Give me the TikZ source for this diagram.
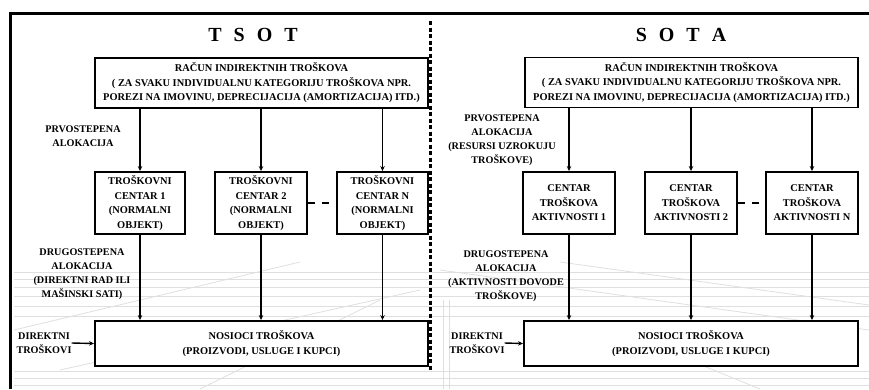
\documentclass[tikz,border=0pt]{standalone}
\usepackage{fontspec}
\setmainfont{Liberation Serif}
\usetikzlibrary{arrows.meta}
\begin{document}
\begin{tikzpicture}[x=1pt,y=-1pt,
  box/.style={draw, line width=1.9pt, fill=white, inner sep=0pt, align=center,
    font=\bfseries\fontsize{10.4}{14.5}\selectfont},
  lbl/.style={inner sep=0pt, align=center, font=\bfseries\fontsize{10.2}{14}\selectfont},
  ttl/.style={inner sep=0pt, font=\bfseries\fontsize{20}{22}\selectfont},
  arr/.style={line width=1.4pt, -{Stealth[length=5pt,width=4.5pt]}},
  gap/.style={line width=1.8pt, dash pattern=on 7pt off 7pt},
  bg/.style={gray!25, line width=0.8pt}]
\useasboundingbox (0,0) rectangle (869,389);
% faint background grid
\foreach \yy in {272,279,287,296,306,316,371,378,385}
  \draw[bg] (14,\yy) -- (869,\yy);
\draw[bg] (14,330) -- (300,262);
\draw[bg] (60,370) -- (420,290);
\draw[bg] (200,389) -- (380,300);
\draw[bg] (440,270) -- (869,330);
\draw[bg] (560,262) -- (869,305);
\draw[bg] (640,340) -- (760,389);
\draw[bg] (443,300) -- (443,389);
\draw[bg] (449,300) -- (449,389);
% frame
\draw[line width=3pt] (10,389) -- (10,13) -- (869,13);
\coordinate (sepA) at (430,21);
\coordinate (sepB) at (430,371);
\draw[line width=3pt, dash pattern=on 4pt off 2.5pt] (sepA) -- (sepB);
% titles
\node[ttl] (tl) at (253,35) {T\hspace{12pt}S\hspace{12pt}O\hspace{12pt}T};
\node[ttl] (tr) at (681,35) {S\hspace{12pt}O\hspace{12pt}T\hspace{12pt}A};
% ---------- left (TSOT) ----------
\node[box, minimum width=333pt, minimum height=50pt] (t1) at (261.5,83)
  {RAČUN INDIREKTNIH TROŠKOVA\\( ZA SVAKU INDIVIDUALNU KATEGORIJU TROŠKOVA NPR.\\POREZI NA IMOVINU, DEPRECIJACIJA (AMORTIZACIJA) ITD.)};
\node[box, minimum width=90pt, minimum height=62pt] (m1) at (140,203)
  {TROŠKOVNI\\CENTAR 1\\(NORMALNI\\OBJEKT)};
\node[box, minimum width=92pt, minimum height=62pt] (m2) at (261,203)
  {TROŠKOVNI\\CENTAR 2\\(NORMALNI\\OBJEKT)};
\node[box, minimum width=91pt, minimum height=62pt] (m3) at (382.5,203)
  {TROŠKOVNI\\CENTAR N\\(NORMALNI\\OBJEKT)};
\node[box, minimum width=333pt, minimum height=45pt] (b1) at (261.5,343.5)
  {NOSIOCI TROŠKOVA\\(PROIZVODI, USLUGE I KUPCI)};
\foreach \m in {m1,m2,m3}{
  \draw[arr] (\m |- t1.south) -- (\m.north);
  \draw[arr] (\m.south) -- (\m |- b1.north);
}
\draw[gap] (m2.east) -- (m3.west);
\node[lbl] (p1) at (83,136.5) {PRVOSTEPENA\\ALOKACIJA};
\node[lbl] (d1) at (82,274.5) {DRUGOSTEPENA\\ALOKACIJA\\(DIREKTNI RAD ILI\\MAŠINSKI SATI)};
\node[lbl] (k1) at (44,343) {DIREKTNI\\TROŠKOVI};
\draw[arr] (k1.east) -- (b1.west);
% ---------- right (SOTA) ----------
\node[box, minimum width=333pt, minimum height=50pt] (t2) at (691.5,82.5)
  {RAČUN INDIREKTNIH TROŠKOVA\\( ZA SVAKU INDIVIDUALNU KATEGORIJU TROŠKOVA NPR.\\POREZI NA IMOVINU, DEPRECIJACIJA (AMORTIZACIJA) ITD.)};
\node[box, minimum width=92pt, minimum height=62pt] (n1) at (569,203)
  {CENTAR\\TROŠKOVA\\AKTIVNOSTI 1};
\node[box, minimum width=92pt, minimum height=62pt] (n2) at (691,203)
  {CENTAR\\TROŠKOVA\\AKTIVNOSTI 2};
\node[box, minimum width=92pt, minimum height=62pt] (n3) at (812,203)
  {CENTAR\\TROŠKOVA\\AKTIVNOSTI N};
\node[box, minimum width=334pt, minimum height=45pt] (b2) at (691,343.5)
  {NOSIOCI TROŠKOVA\\(PROIZVODI, USLUGE I KUPCI)};
\foreach \m in {n1,n2,n3}{
  \draw[arr] (\m |- t2.south) -- (\m.north);
  \draw[arr] (\m.south) -- (\m |- b2.north);
}
\draw[gap] (n2.east) -- (n3.west);
\node[lbl] (p2) at (502,140) {PRVOSTEPENA\\ALOKACIJA\\(RESURSI UZROKUJU\\TROŠKOVE)};
\node[lbl] (d2) at (506,276) {DRUGOSTEPENA\\ALOKACIJA\\(AKTIVNOSTI DOVODE\\TROŠKOVE)};
\node[lbl] (k2) at (477,343) {DIREKTNI\\TROŠKOVI};
\draw[arr] (k2.east) -- (b2.west);
\end{tikzpicture}
\end{document}
